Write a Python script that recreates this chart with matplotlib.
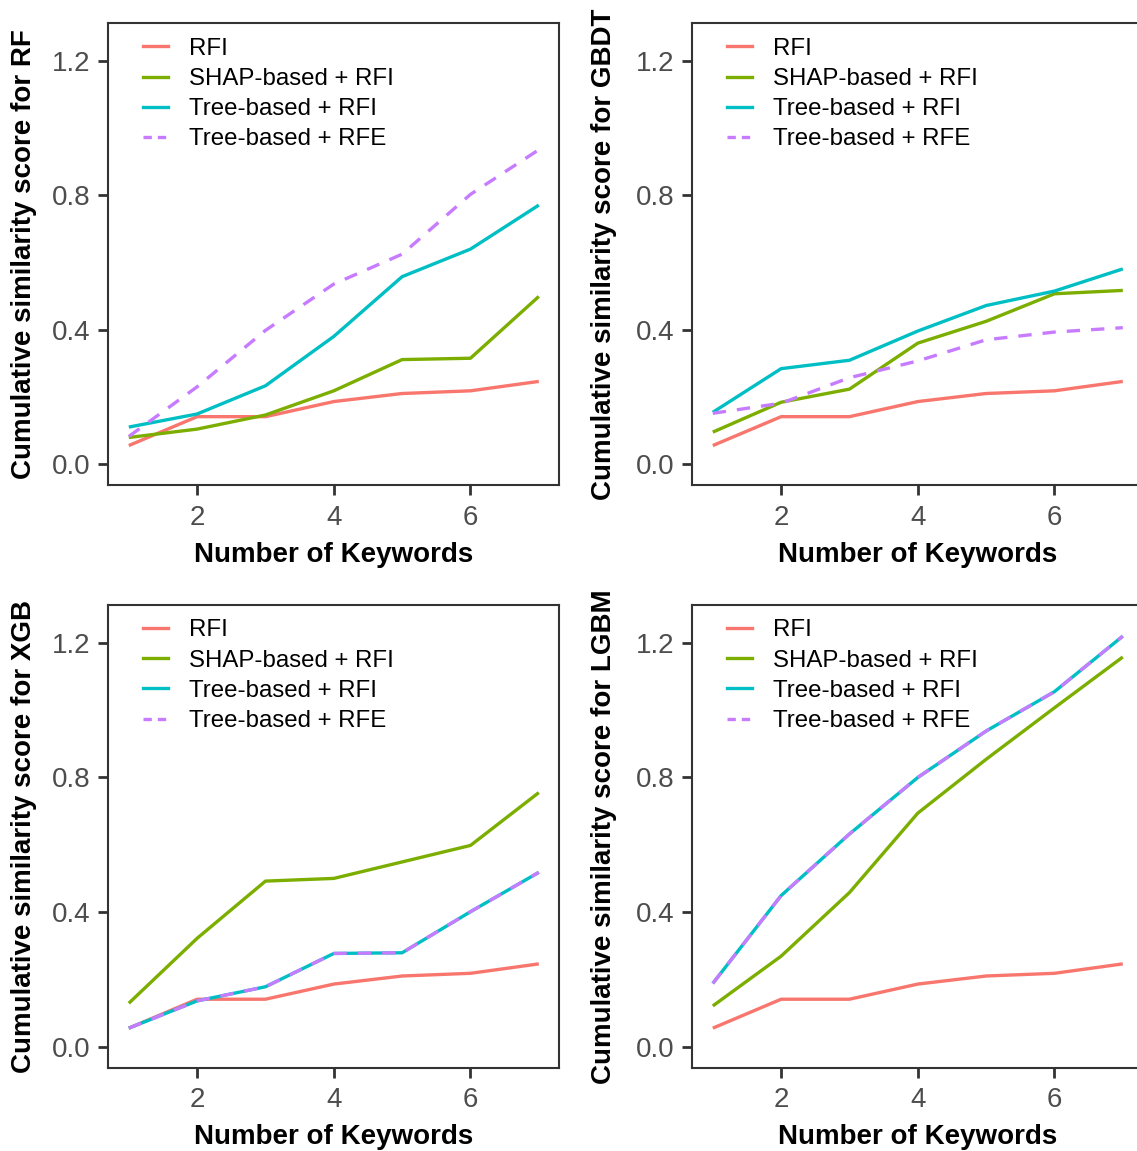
import matplotlib
matplotlib.use("Agg")
import matplotlib.pyplot as plt
from matplotlib.lines import Line2D

plt.rcParams['font.family'] = ['Liberation Sans', 'DejaVu Sans']

# ---------------- data ----------------
n_keywords = [1, 2, 3, 4, 5, 6, 7]
series_names = ["RFI", "SHAP-based + RFI", "Tree-based + RFI", "Tree-based + RFE"]
models = ["RF", "GBDT", "XGB", "LGBM"]

rf_rfi       = [0.055, 0.141, 0.141, 0.186, 0.210, 0.218, 0.246]
rf_shap_rfi  = [0.079, 0.104, 0.146, 0.218, 0.311, 0.315, 0.499]
rf_tree_rfi  = [0.110, 0.149, 0.233, 0.380, 0.558, 0.640, 0.771]
rf_tree_rfe  = [0.082, 0.230, 0.398, 0.536, 0.625, 0.803, 0.936]

gbdt_rfi      = [0.055, 0.141, 0.141, 0.186, 0.210, 0.218, 0.246]
gbdt_shap_rfi = [0.095, 0.184, 0.223, 0.360, 0.425, 0.507, 0.517]
gbdt_tree_rfi = [0.154, 0.284, 0.309, 0.396, 0.472, 0.515, 0.581]
gbdt_tree_rfe = [0.151, 0.181, 0.257, 0.307, 0.370, 0.393, 0.406]

xgb_rfi      = [0.055, 0.141, 0.141, 0.186, 0.210, 0.218, 0.246]
xgb_shap_rfi = [0.129, 0.322, 0.492, 0.500, 0.549, 0.598, 0.755]
xgb_tree_rfi = [0.055, 0.136, 0.178, 0.277, 0.279, 0.401, 0.518]
xgb_tree_rfe = [0.055, 0.136, 0.178, 0.277, 0.279, 0.401, 0.518]

lgbm_rfi      = [0.055, 0.141, 0.141, 0.186, 0.210, 0.218, 0.246]
lgbm_shap_rfi = [0.121, 0.269, 0.458, 0.694, 0.854, 1.007, 1.158]
lgbm_tree_rfi = [0.188, 0.449, 0.632, 0.800, 0.938, 1.055, 1.220]
lgbm_tree_rfe = [0.188, 0.449, 0.632, 0.800, 0.938, 1.055, 1.220]

panel_data = {
    "RF":   [rf_rfi, rf_shap_rfi, rf_tree_rfi, rf_tree_rfe],
    "GBDT": [gbdt_rfi, gbdt_shap_rfi, gbdt_tree_rfi, gbdt_tree_rfe],
    "XGB":  [xgb_rfi, xgb_shap_rfi, xgb_tree_rfi, xgb_tree_rfe],
    "LGBM": [lgbm_rfi, lgbm_shap_rfi, lgbm_tree_rfi, lgbm_tree_rfe],
}

x_ticks = [2, 4, 6]
y_ticks = [0.0, 0.4, 0.8, 1.2]
y_tick_labels = ["0.0", "0.4", "0.8", "1.2"]

# ---------------- style ----------------
colors = ["#F8766D", "#7CAE00", "#00BFC4", "#C77CFF"]
W, H = 1137, 1151
fig = plt.figure(figsize=(W / 100, H / 100), dpi=100)

LW = 2.4
DASH = (4.0, 3.3)

# axes positions in pixels: left, top, right, bottom
pos_px = {
    "RF":   (108.3, 23.3, 559.3, 485.0),
    "GBDT": (692.3, 23.3, 1143.3, 485.0),
    "XGB":  (108.3, 605.0, 559.3, 1067.7),
    "LGBM": (692.3, 605.0, 1143.3, 1067.7),
}
ylabel_x = {"RF": 24, "GBDT": 604, "XGB": 24, "LGBM": 604}

grey_dark = "#333333"
for m in models:
    l, t, r, b = pos_px[m]
    ax = fig.add_axes([l / W, 1 - b / H, (r - l) / W, (b - t) / H])
    for i, (name, vals) in enumerate(zip(series_names, panel_data[m])):
        if i == 3:
            ax.plot(n_keywords, vals, color=colors[i], lw=LW, dashes=DASH,
                    solid_capstyle='butt', dash_capstyle='butt')
        else:
            ax.plot(n_keywords, vals, color=colors[i], lw=LW,
                    solid_capstyle='butt', solid_joinstyle='round')
    ax.set_xlim(0.7, 7.3)
    ax.set_ylim(-0.0625, 1.3125)
    ax.set_xticks(x_ticks)
    ax.set_xticklabels([str(v) for v in x_ticks])
    ax.set_yticks(y_ticks)
    ax.set_yticklabels(y_tick_labels)
    ax.tick_params(axis='both', length=7.2, width=2.0, color=grey_dark,
                   labelcolor="#4D4D4D", labelsize=20)
    ax.tick_params(axis='x', pad=7)
    ax.tick_params(axis='y', pad=5.5)
    for s in ax.spines.values():
        s.set_color(grey_dark)
        s.set_linewidth(1.5)

    handles = []
    for i in range(4):
        if i == 3:
            handles.append(Line2D([], [], color=colors[i], lw=LW, dashes=(2.5, 1.8)))
        else:
            handles.append(Line2D([], [], color=colors[i], lw=LW))
    ax.legend(handles, series_names, loc='upper left',
              bbox_to_anchor=(34.7 / (r - l), 1 - 14.5 / (b - t)),
              frameon=False, fontsize=17.3, borderpad=0, borderaxespad=0,
              handlelength=1.02, handletextpad=0.88, labelspacing=0.34)

    fig.text(ylabel_x[m] / W, 1 - ((t + b) / 2) / H,
             "Cumulative similarity score for " + m,
             rotation=90, ha='center', va='center', fontsize=20,
             fontweight='bold', color='black')
    fig.text(((l + r) / 2) / W, 1 - (b + 76.7) / H, "Number of Keywords",
             ha='center', va='baseline', fontsize=20, fontweight='bold',
             color='black')

fig.savefig("out.png", dpi=100)
